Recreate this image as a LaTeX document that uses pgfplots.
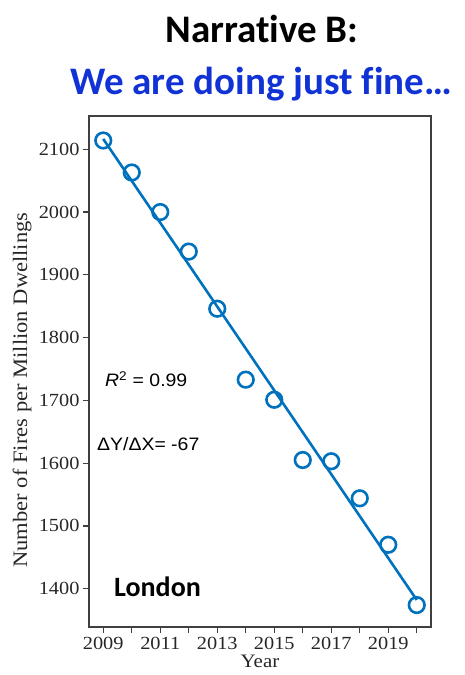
\documentclass[border=0pt]{standalone}
\usepackage{pgfplots}
\pgfplotsset{compat=1.18}
\usepackage{fontspec}
\setmainfont{Liberation Serif}
\newfontfamily\tnr[FakeStretch=1.1]{Liberation Serif}
\newfontfamily\calfont[Ligatures=NoCommon]{Carlito}
\newfontfamily\arialfont[FakeStretch=1.08]{Liberation Sans}
\definecolor{lineblue}{RGB}{0,114,189}
\definecolor{titleblue}{RGB}{17,51,214}
\definecolor{framecol}{RGB}{64,64,64}
\begin{document}
\begin{tikzpicture}[x=1pt,y=1pt]
\useasboundingbox (0,0) rectangle (464,675);
\begin{axis}[
  at={(89pt,48pt)}, anchor=south west,
  scale only axis, width=342pt, height=511pt,
  xmin=2008.5, xmax=2020.5, ymin=1339, ymax=2153,
  xtick={2009,2010,2011,2012,2013,2014,2015,2016,2017,2018,2019,2020},
  xticklabels={2009,,2011,,2013,,2015,,2017,,2019,},
  ytick={1400,1500,1600,1700,1800,1900,2000,2100},
  /pgf/number format/1000 sep={},
  /pgf/number format/assume math mode=true,
  ticklabel style={font=\tnr\fontsize{18.5}{18.5}\selectfont, text=black!85},
  tick align=outside, tick pos=left,
  major tick length=6pt,
  tick style={draw=framecol, line width=1.2pt},
  axis line style={draw=framecol, line width=1.8pt},
  xticklabel style={yshift=-1pt},
  clip=false,
]
\addplot[lineblue, line width=2.6pt] coordinates {(2009,2116.4) (2020,1382.1)};
\addplot[only marks, mark=o, mark size=7.8pt, mark options={lineblue, line width=2.6pt}] coordinates {
(2009,2114) (2010,2063) (2011,2000) (2012,1937) (2013,1846) (2014,1733)
(2015,1701) (2016,1605) (2017,1603) (2018,1544) (2019,1470) (2020,1374)};
\end{axis}
\node[anchor=base, font=\calfont\bfseries\fontsize{39}{39}\selectfont] at (262,632) {Narrat\kern0pt ive B:};
\node[anchor=base, font=\calfont\bfseries\fontsize{39}{39}\selectfont, text=titleblue] at (261,580) {We are doing just f\kern0pt ine…};
\node[rotate=90, font=\tnr\fontsize{20.5}{20.5}\selectfont, text=black!85] at (22,285) {Number of Fires per Million Dwellings};
\node[anchor=base, font=\tnr\fontsize{19}{19}\selectfont, text=black!85] at (260,8) {Year};
\node[anchor=base west, inner sep=0pt, font=\arialfont\fontsize{18}{18}\selectfont] at (105,288) {{\itshape R}\textsuperscript{2} = 0.99};
\node[anchor=base west, inner sep=0pt, font=\arialfont\fontsize{18}{18}\selectfont] at (97,224) {ΔY/ΔX= -67};
\node[anchor=base west, inner sep=0pt, font=\calfont\bfseries\fontsize{28}{28}\selectfont] at (114,78) {London};
\end{tikzpicture}
\end{document}
